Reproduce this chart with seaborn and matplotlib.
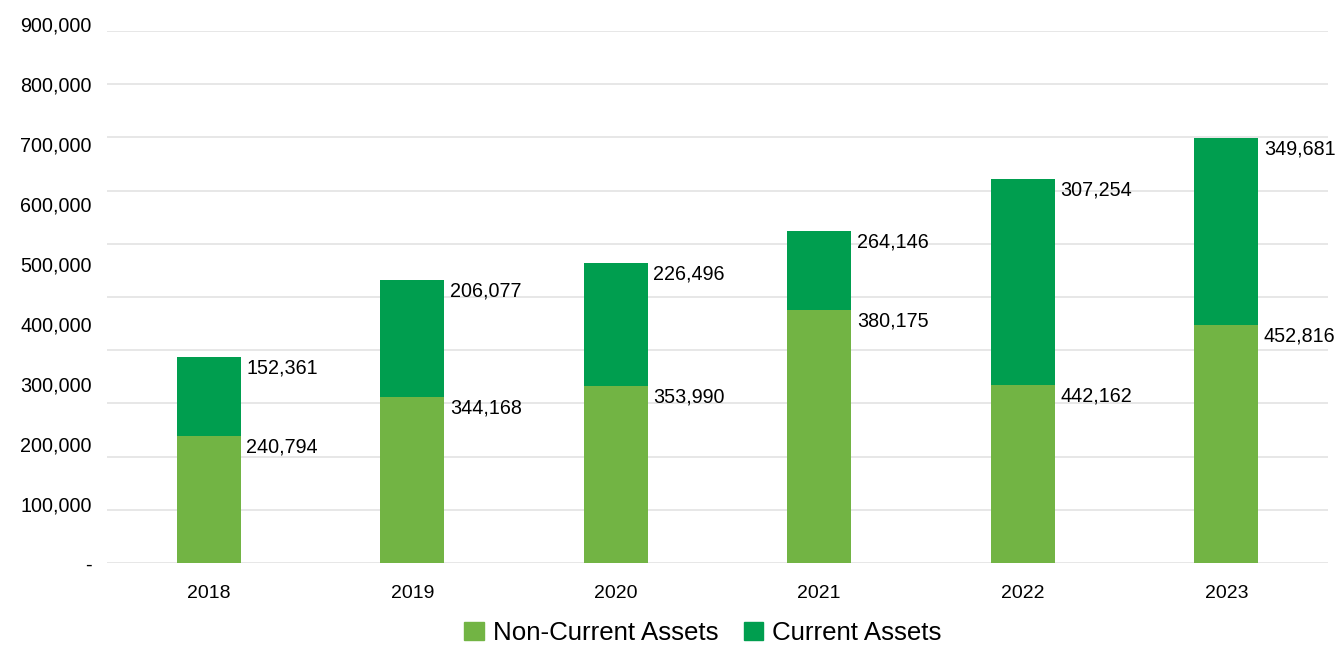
import numpy as np
import matplotlib
matplotlib.use('Agg')
import matplotlib.pyplot as plt
from matplotlib.patches import Patch
import seaborn as sns

# Data
years = ['2018', '2019', '2020', '2021', '2022', '2023']
# bar heights as drawn in the reference
non_current = [238700, 312600, 332700, 475600, 334600, 447400]
current = [148500, 219400, 231800, 148500, 387200, 351500]
# value labels as printed in the reference
non_current_labels = ['240,794', '344,168', '353,990', '380,175', '442,162', '452,816']
current_labels = ['152,361', '206,077', '226,496', '264,146', '307,254', '349,681']
y_ticks = [0, 100000, 200000, 300000, 400000, 500000, 600000, 700000, 800000, 900000]

light_green = '#72B444'
dark_green = '#009E4F'
text_color = '#000000'

sns.set_theme(style='white')
plt.rcParams['font.family'] = ['Liberation Sans', 'DejaVu Sans']

W, H = 1339, 645
fig = plt.figure(figsize=(W / 100, H / 100), dpi=100)
ax = fig.add_axes([107 / W, (H - 563) / H, (1328 - 107) / W, (563 - 31) / H])

totals = np.array(non_current) + np.array(current)
sns.barplot(x=years, y=totals, color=dark_green, saturation=1, width=0.315,
            linewidth=0, ax=ax)
sns.barplot(x=years, y=non_current, color=light_green, saturation=1, width=0.315,
            linewidth=0, ax=ax)

ax.set_xlim(-0.5, 5.5)
ax.set_ylim(0, 1000000)
ax.set_yticks(np.arange(0, 1000001, 100000))
ax.set_yticklabels([])
ax.grid(axis='y', color='#e3e3e3', linewidth=1.2)
ax.set_axisbelow(True)
for s in ax.spines.values():
    s.set_visible(False)
ax.tick_params(axis='x', length=0, pad=16, labelsize=14, labelcolor=text_color)
ax.tick_params(axis='y', length=0)
ax.set_xlabel('')
ax.set_ylabel('')

# value labels to the right of each segment
for i in range(len(years)):
    ax.annotate(non_current_labels[i], xy=(i + 0.315 / 2, non_current[i]), xytext=(4, -8),
                textcoords='offset points', ha='left', va='center', fontsize=14.2, color=text_color)
    ax.annotate(current_labels[i], xy=(i + 0.315 / 2, totals[i]), xytext=(4, -8),
                textcoords='offset points', ha='left', va='center', fontsize=14.2, color=text_color)

# y tick labels sit on their own scale, as in the reference
ax2 = fig.add_axes([107 / W, (H - 563.5) / H, (1328 - 107) / W, (563.5 - 24) / H])
ax2.patch.set_visible(False)
ax2.set_ylim(0, 900000)
ax2.set_yticks(y_ticks)
ax2.set_yticklabels(['-' if v == 0 else f'{v:,}' for v in y_ticks])
ax2.tick_params(axis='y', length=0, pad=11, labelsize=14.2, labelcolor=text_color)
ax2.set_xticks([])
for s in ax2.spines.values():
    s.set_visible(False)

handles = [Patch(color=light_green, label='Non-Current Assets'),
           Patch(color=dark_green, label='Current Assets')]
fig.legend(handles=handles, loc='center', bbox_to_anchor=(703 / W, (H - 633) / H), ncol=2,
           frameon=False, fontsize=18.6, handlelength=0.75, handleheight=0.75,
           handletextpad=0.35, columnspacing=1.0, labelcolor=text_color)

fig.savefig('out.png', dpi=100)
